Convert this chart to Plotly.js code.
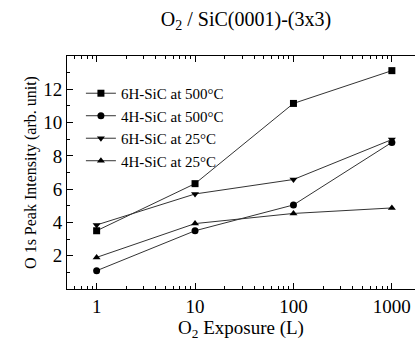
<!DOCTYPE html>
<html><head><meta charset="utf-8">
<script src="https://cdn.plot.ly/plotly-3.0.1.min.js"></script>
<style>html,body{margin:0;padding:0;background:#fff}#c{width:417px;height:344px}</style>
</head><body><div id="c"></div>
<script>
const exposure = [1, 10, 100, 1000];
const names = ["6H-SiC at 500°C", "4H-SiC at 500°C", "6H-SiC at 25°C", "4H-SiC at 25°C"];
const s6H500 = [3.5, 6.33, 11.15, 13.12];
const s4H500 = [1.1, 3.5, 5.05, 8.81];
const s6H25 = [3.85, 5.71, 6.58, 8.98];
const s4H25 = [1.9, 3.93, 4.54, 4.87];
const yTicks = [2, 4, 6, 8, 10, 12];
const xTicks = [1, 10, 100, 1000];

const series = [s6H500, s4H500, s6H25, s4H25];
const symbols = ["square", "circle", "triangle-down", "triangle-up"];
const serif = "Liberation Serif, Times New Roman, serif";
const traces = series.map((ys, i) => ({
  x: exposure, y: ys, name: names[i], type: "scatter", mode: "lines+markers",
  line: {color: "#333", width: 1},
  marker: {symbol: symbols[i], color: "#000", size: 7}
}));
const layout = {
  width: 417, height: 344,
  margin: {l: 67, r: 2, t: 56, b: 55},
  paper_bgcolor: "#fff", plot_bgcolor: "#fff",
  font: {family: serif, color: "#000"},
  title: {text: "O<sub>2</sub> / SiC(0001)-(3x3)", font: {size: 20, family: serif}, x: 0.59, xanchor: "center", y: 0.945, yanchor: "middle"},
  showlegend: true,
  legend: {x: 0.04, y: 0.91, xanchor: "left", yanchor: "top", font: {size: 15, family: serif}, bgcolor: "rgba(0,0,0,0)", tracegroupgap: 0, itemwidth: 30},
  xaxis: {
    type: "log", range: [Math.log10(0.5), 3.235],
    tickvals: xTicks, ticktext: xTicks.map(String),
    ticks: "inside", ticklen: 6, tickcolor: "#000", tickwidth: 1,
    minor: {ticks: "inside", ticklen: 3, tickcolor: "#000", dtick: "D1"},
    showline: true, linecolor: "#000", linewidth: 1, mirror: "allticks",
    showgrid: false, zeroline: false,
    tickfont: {size: 19, family: serif},
    title: {text: "O<sub>2</sub> Exposure (L)", font: {size: 19, family: serif}, standoff: 4}
  },
  yaxis: {
    range: [0, 14], tickvals: yTicks,
    ticks: "inside", ticklen: 6, tickcolor: "#000", tickwidth: 1,
    minor: {ticks: "inside", ticklen: 3, tickcolor: "#000", dtick: 1, tick0: 0},
    showline: true, linecolor: "#000", linewidth: 1, mirror: false,
    showgrid: false, zeroline: false,
    tickfont: {size: 19, family: serif},
    title: {text: "O 1s Peak Intensity (arb. unit)", font: {size: 16, family: serif}, standoff: 2}
  }
};
Plotly.newPlot("c", traces, layout, {displayModeBar: false, staticPlot: true});
</script></body></html>
